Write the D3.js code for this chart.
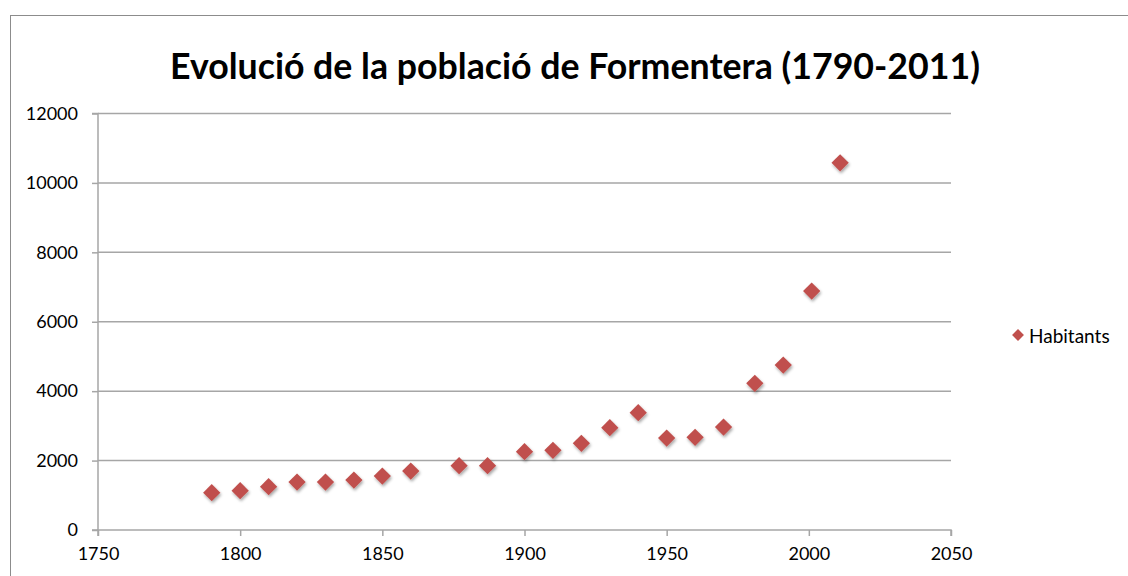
<!DOCTYPE html>
<html>
<head>
<meta charset="utf-8">
<script src="https://cdn.jsdelivr.net/npm/d3@7/dist/d3.min.js"></script>
<style>
  html, body { margin: 0; padding: 0; background: #fff; }
  svg { display: block; }
  text { font-family: Lato, "Noto Sans", sans-serif; fill: #000; }
</style>
</head>
<body>
<svg id="chart" width="1128" height="576"></svg>
<script>
const title = "Evolució de la població de Formentera (1790-2011)";
const seriesName = "Habitants";
const years = [1790, 1800, 1810, 1820, 1830, 1840, 1850, 1860, 1877, 1887, 1900, 1910, 1920, 1930, 1940, 1950, 1960, 1970, 1981, 1991, 2001, 2011];
const habitants = [1074, 1132, 1247, 1382, 1382, 1440, 1555, 1699, 1852, 1852, 2255, 2295, 2497, 2947, 3379, 2650, 2670, 2966, 4225, 4752, 6884, 10579];
const xTicks = [1750, 1800, 1850, 1900, 1950, 2000, 2050];
const yTicks = [0, 2000, 4000, 6000, 8000, 10000, 12000];

const svg = d3.select("#chart");
const W = 1128, H = 576;
const mLeft = 98, mRight = 951, mTop = 113.5, mBottom = 530;
const color = "#C0504D";
const grid = "#a6a6a6";

const defs = svg.append("defs");
const f = defs.append("filter").attr("id", "shadow").attr("x", "-50%").attr("y", "-50%").attr("width", "200%").attr("height", "200%");
f.append("feDropShadow").attr("dx", 1).attr("dy", 2).attr("stdDeviation", 1.5).attr("flood-color", "#000").attr("flood-opacity", 0.35);

// outer border
svg.append("rect").attr("x", 10.5).attr("y", 15.5).attr("width", W + 20).attr("height", H + 20)
  .attr("fill", "none").attr("stroke", "#8c8c8c").attr("stroke-width", 1);

const x = d3.scaleLinear().domain([1750, 2050]).range([mLeft, mRight]);
const y = d3.scaleLinear().domain([0, 12000]).range([mBottom, mTop]);

// gridlines
svg.append("g").selectAll("line").data(yTicks.filter(d => d > 0)).join("line")
  .attr("x1", mLeft).attr("x2", mRight)
  .attr("y1", d => y(d)).attr("y2", d => y(d))
  .attr("stroke", grid).attr("stroke-width", 1.5);

// y axis
const yAxis = svg.append("g").attr("transform", `translate(${mLeft},0)`)
  .call(d3.axisLeft(y).tickValues(yTicks).tickSize(6).tickPadding(14).tickFormat(d3.format("d")));
yAxis.select(".domain").attr("stroke", grid).attr("stroke-width", 1.5).attr("d", `M-6,${mBottom}H0V${mTop}H-6`);
yAxis.selectAll(".tick line").attr("stroke", grid).attr("stroke-width", 1.5);
yAxis.selectAll("text").attr("font-size", 18).attr("font-family", "Lato, sans-serif").attr("fill", "#000");

// x axis
const xAxis = svg.append("g").attr("transform", `translate(0,${mBottom})`)
  .call(d3.axisBottom(x).tickValues(xTicks).tickSize(6).tickPadding(11).tickFormat(d3.format("d")));
xAxis.select(".domain").attr("stroke", grid).attr("stroke-width", 1.5).attr("d", `M${mLeft},6V0H${mRight}V6`);
xAxis.selectAll(".tick line").attr("stroke", grid).attr("stroke-width", 1.5);
xAxis.selectAll("text").attr("font-size", 18).attr("font-family", "Lato, sans-serif").attr("fill", "#000");

// points
const diamond = d3.symbol().type(d3.symbolDiamond2).size(190);
svg.append("g").selectAll("path").data(years.map((yr, i) => ({yr, v: habitants[i]}))).join("path")
  .attr("d", diamond)
  .attr("transform", d => `translate(${x(d.yr)},${y(d.v)})`)
  .attr("fill", color)
  .attr("filter", "url(#shadow)");

// title
svg.append("text").attr("x", 575).attr("y", 79).attr("text-anchor", "middle")
  .attr("font-size", 35.7).attr("font-weight", "bold").text(title);

// legend
svg.append("path").attr("d", d3.symbol().type(d3.symbolDiamond2).size(90))
  .attr("transform", "translate(1018,335)").attr("fill", color);
svg.append("text").attr("x", 1029).attr("y", 343).attr("font-size", 19).text(seriesName);
</script>
</body>
</html>
